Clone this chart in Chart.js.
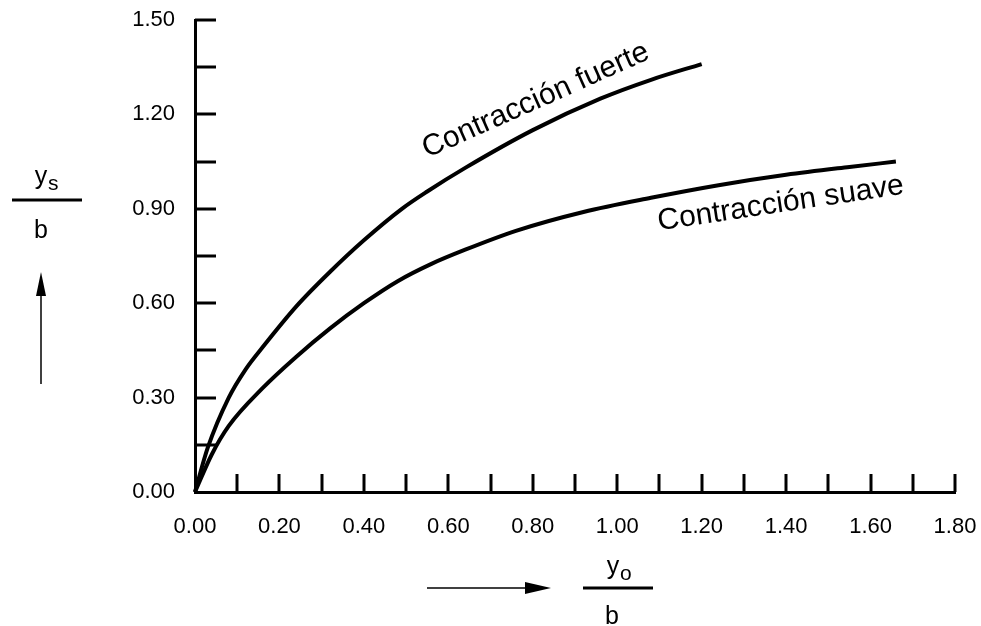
<!DOCTYPE html>
<html><head><meta charset="utf-8">
<script src="https://cdn.jsdelivr.net/npm/chart.js@4/dist/chart.umd.min.js"></script>
<style>html,body{margin:0;padding:0;background:#fff}#wrap{width:981px;height:626px}</style>
</head><body><div id="wrap"><canvas id="c" width="981" height="626"></canvas></div>
<script>
// ---- data ----
const fuerteX = [0, 0.03, 0.08, 0.12, 0.16, 0.24, 0.32, 0.40, 0.49, 0.55, 0.64, 0.80, 0.96, 1.08, 1.20];
const fuerteY = [0, 0.14, 0.30, 0.39, 0.46, 0.59, 0.70, 0.80, 0.90, 0.955, 1.03, 1.15, 1.25, 1.31, 1.36];
const suaveX = [0, 0.04, 0.08, 0.16, 0.24, 0.32, 0.40, 0.48, 0.56, 0.64, 0.76, 0.92, 1.08, 1.24, 1.40, 1.55, 1.66];
const suaveY = [0, 0.12, 0.21, 0.33, 0.43, 0.52, 0.60, 0.67, 0.725, 0.77, 0.83, 0.89, 0.935, 0.975, 1.008, 1.033, 1.05];
const xTickValues = [0, 0.2, 0.4, 0.6, 0.8, 1.0, 1.2, 1.4, 1.6, 1.8];
const yTickValues = [0, 0.3, 0.6, 0.9, 1.2, 1.5];
const xMinorStep = 0.1;
const yMinorStep = 0.15;
const labelFuerte = 'Contracción fuerte';
const labelSuave = 'Contracción suave';
const labelFuertePos = {x: 0.815, y: 1.22, angle: -24};
const labelSuavePos = {x: 1.39, y: 0.89, angle: -8.5};

const FONT = '"Liberation Sans", Arial, sans-serif';
const toPts = (xs, ys) => xs.map((x, i) => ({x: x, y: ys[i]}));

const overlay = {
  id: 'overlay',
  afterDraw(chart) {
    const ctx = chart.ctx, xs = chart.scales.x, ys = chart.scales.y, a = chart.chartArea;
    ctx.save();
    ctx.strokeStyle = '#000';
    ctx.lineWidth = 3;
    ctx.lineCap = 'butt';
    // inward ticks
    for (let v = xMinorStep; v <= 1.8 + 1e-9; v += xMinorStep) {
      const px = Math.round(xs.getPixelForValue(v));
      ctx.beginPath(); ctx.moveTo(px, a.bottom); ctx.lineTo(px, a.bottom - 18); ctx.stroke();
    }
    for (let v = yMinorStep; v <= 1.5 + 1e-9; v += yMinorStep) {
      const py = Math.round(ys.getPixelForValue(v));
      ctx.beginPath(); ctx.moveTo(a.left, py); ctx.lineTo(a.left + 21, py); ctx.stroke();
    }
    // curve labels
    ctx.fillStyle = '#000';
    ctx.font = '30px ' + FONT;
    ctx.textAlign = 'center';
    ctx.textBaseline = 'alphabetic';
    [[labelFuerte, labelFuertePos], [labelSuave, labelSuavePos]].forEach(([t, p]) => {
      ctx.save();
      ctx.translate(xs.getPixelForValue(p.x), ys.getPixelForValue(p.y));
      ctx.rotate(p.angle * Math.PI / 180);
      ctx.fillText(t, 0, 0);
      ctx.restore();
    });
    // y axis title (fraction) + arrow
    ctx.font = '25px ' + FONT;
    ctx.textAlign = 'center';
    ctx.fillText('y', 41, 184);
    ctx.font = '21px ' + FONT;
    ctx.textAlign = 'left';
    ctx.fillText('s', 48, 190);
    ctx.textAlign = 'center';
    ctx.font = '25px ' + FONT;
    ctx.fillText('b', 41, 238);
    ctx.lineWidth = 3;
    ctx.beginPath(); ctx.moveTo(12, 200); ctx.lineTo(82, 200); ctx.stroke();
    ctx.lineWidth = 1.5;
    ctx.beginPath(); ctx.moveTo(41, 384); ctx.lineTo(41, 290); ctx.stroke();
    ctx.beginPath(); ctx.moveTo(41, 272); ctx.lineTo(46, 296); ctx.lineTo(36, 296); ctx.closePath(); ctx.fill();
    // x axis title (fraction) + arrow
    ctx.font = '25px ' + FONT;
    ctx.fillText('y', 613, 574);
    ctx.font = '21px ' + FONT;
    ctx.textAlign = 'left';
    ctx.fillText('o', 620, 580);
    ctx.textAlign = 'center';
    ctx.font = '25px ' + FONT;
    ctx.fillText('b', 612, 624);
    ctx.lineWidth = 3;
    ctx.beginPath(); ctx.moveTo(583, 588); ctx.lineTo(653, 588); ctx.stroke();
    ctx.lineWidth = 1.5;
    ctx.beginPath(); ctx.moveTo(427, 588); ctx.lineTo(530, 588); ctx.stroke();
    ctx.beginPath(); ctx.moveTo(551, 588); ctx.lineTo(525, 582); ctx.lineTo(525, 594); ctx.closePath(); ctx.fill();
    ctx.restore();
  }
};

new Chart(document.getElementById('c'), {
  type: 'scatter',
  data: {
    datasets: [
      {label: labelFuerte, data: toPts(fuerteX, fuerteY)},
      {label: labelSuave, data: toPts(suaveX, suaveY)}
    ].map(d => Object.assign(d, {
      showLine: true, borderColor: '#000', borderWidth: 4, pointRadius: 0,
      cubicInterpolationMode: 'monotone', fill: false, clip: false
    }))
  },
  options: {
    responsive: false,
    animation: false,
    devicePixelRatio: 1,
    layout: {padding: {left: 0, right: 26, top: 20, bottom: 74}},
    plugins: {legend: {display: false}, tooltip: {enabled: false}},
    scales: {
      x: {
        type: 'linear', min: 0, max: 1.8,
        afterBuildTicks: s => { s.ticks = xTickValues.map(v => ({value: v})); },
        afterFit: s => { s.height = 60; s.paddingLeft = 0; s.paddingRight = 0; },
        grid: {display: false, drawTicks: false},
        border: {display: true, width: 3, color: '#000'},
        ticks: {padding: 22, color: '#000', font: {family: FONT, size: 22}, maxRotation: 0,
                callback: v => Number(v).toFixed(2)}
      },
      y: {
        type: 'linear', min: 0, max: 1.5,
        afterBuildTicks: s => { s.ticks = yTickValues.map(v => ({value: v})); },
        afterFit: s => { s.width = 195; s.paddingTop = 0; s.paddingBottom = 0; },
        grid: {display: false, drawTicks: false},
        border: {display: true, width: 3, color: '#000'},
        ticks: {padding: 20, color: '#000', font: {family: FONT, size: 22},
                callback: v => Number(v).toFixed(2)}
      }
    }
  },
  plugins: [overlay]
});
</script>
</body></html>
